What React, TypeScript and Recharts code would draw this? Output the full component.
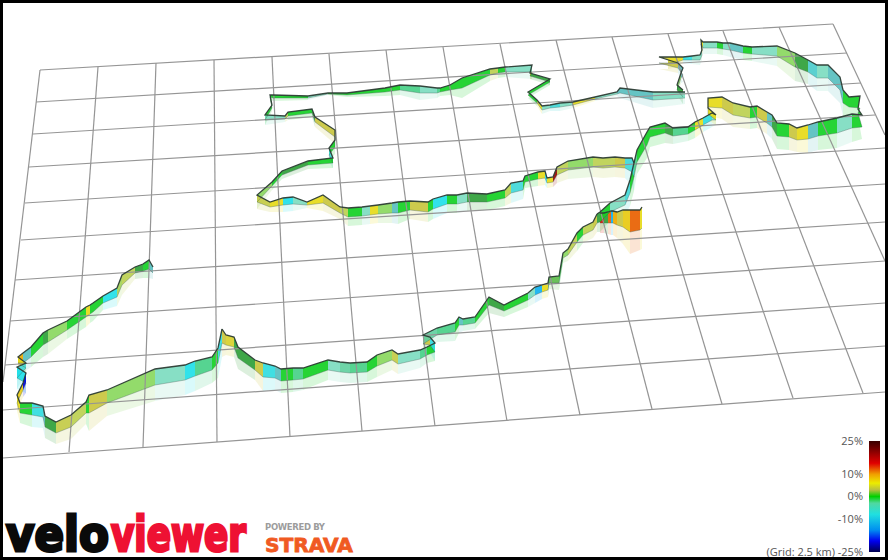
import React from 'react';
import { ComposedChart, Area, Line, XAxis, YAxis, ReferenceArea, ReferenceDot } from 'recharts';

// projected grid, [x1, y1, x2, y2]
const gridAcross = [
  [40, 70, 833, 24], [36, 102, 847, 53], [33, 134, 861, 83], [29, 167, 875, 115],
  [25, 203, 885, 148], [21, 240, 885, 184], [15, 280, 885, 222], [10, 321, 885, 261],
  [5, 365, 885, 303], [3, 410, 885, 346], [3, 458, 885, 392],
];
const gridAlong = [
  [40, 70, 3, 382], [98, 67, 69, 452], [156, 63, 143, 447], [214, 60, 217, 442],
  [272, 57, 290, 437], [329, 54, 362, 431], [386, 50, 435, 426], [443, 47, 507, 421],
  [500, 44, 580, 415], [556, 40, 652, 409], [612, 37, 722, 404], [668, 34, 793, 398],
  [723, 31, 863, 393], [779, 27, 885, 261], [833, 24, 885, 135],
];

// route legs: [x, top of wall, foot of wall, gradient % of the stretch leaving this point]
const westLeg = [
  [153, 267, 273, -4], [149, 260, 269, 0], [143, 264, 271, 1], [135, 267, 273, 3], [122, 275, 285, 2.5],
  [117, 288, 297, -8], [103, 296, 303, 0], [93, 303, 312, 0], [90, 305, 314, 5], [86, 307, 317, 0],
  [67, 321, 330, 2], [48, 330, 342, 1], [43, 333, 345, 0], [31, 347, 357, -4], [23, 353, 363, 8],
  [18, 357, 363, 5], [26, 363, 368, -6], [17, 367, 378, -8], [26, 373, 383, -20], [23, 383, 390, 6],
  [17, 395, 403, 5], [20, 403, 413, 0], [32, 403, 415, -7], [43, 406, 417, -4], [45, 416, 427, 1],
  [56, 422, 433, 3.5], [71, 415, 427, 3], [86, 402, 413, 0], [89, 395, 413, 4], [107, 390, 403, 2],
  [155, 369, 385, -3], [185, 365, 380, -8], [195, 361, 376, -1], [212, 357, 370, 0], [218, 348, 363, -7],
  [222, 329, 343, 4],
];
const southLeg = [
  [222, 329, 343, 4], [226, 335, 345, 4.5], [234, 337, 347, 1], [238, 347, 358, 1], [255, 360, 370, 4],
  [263, 363, 377, -7], [275, 366, 378, -4], [281, 369, 381, 0], [293, 368, 380, -1], [303, 368, 379, 0],
  [328, 360, 370, -3], [340, 362, 372, -2], [350, 363, 373, -1], [367, 362, 372, 0], [377, 355, 366, 2],
  [392, 350, 360, 3.5], [398, 354, 364, -3], [420, 350, 359, -1], [427, 347, 355, 0], [435, 343, 352, -7],
  [430, 337, 345, 4], [423, 335, 344, -2], [437, 328, 335, -1], [455, 323, 332, 0], [459, 317, 325, -4],
  [463, 319, 325, -1], [475, 317, 323, 0], [489, 297, 305, 1], [504, 305, 311, 0], [528, 293, 300, -3],
  [535, 287, 295, -12], [542, 285, 292, 5], [548, 283, 290, 1], [549, 277, 283, 1.5], [559, 276, 283, 0],
  [563, 253, 258, 2], [568, 249, 255, 3], [577, 233, 242, 0], [583, 227, 235, 3], [593, 222, 230, 4],
  [597, 214, 223, 1],
];
const spurLeg = [
  [600, 213, 223, 16], [604, 213, 223, 1], [608, 212, 223, 13], [611, 211, 223, -12], [613, 211, 223, 8],
  [617, 212, 225, 4], [623, 210, 227, 6], [630, 210, 232, 13], [640, 210, 230, 5], [642, 207, 228, 5],
];
const eastLeg = [
  [597, 214, 223, 1], [600, 212, 222, 0], [610, 203, 212, -3], [625, 195, 205, -6], [630, 180, 193, 0],
  [634, 163, 177, -1], [637, 150, 162, 0], [647, 132, 145, 0], [650, 127, 137, 0], [665, 123, 133, 1],
  [673, 128, 136, -1], [688, 127, 134, 0], [695, 122, 130, 5], [703, 118, 125, -7], [712, 113, 120, -3],
  [716, 115, 120, 5], [708, 108, 114, 4], [708, 98, 107, 5], [722, 97, 108, 4], [733, 103, 115, 3],
  [750, 107, 118, 0], [757, 106, 117, 4], [767, 112, 123, -4], [772, 115, 127, 1], [777, 123, 136, 0],
  [789, 124, 137, 4], [797, 128, 140, 5], [808, 125, 139, -4], [818, 122, 136, 0], [837, 118, 133, -3],
  [852, 114, 128, 0], [862, 115, 127, 0], [858, 109, 113, 0], [860, 96, 108, 0], [849, 97, 107, 0],
  [843, 90, 103, -4], [840, 77, 90, -4], [828, 65, 78, -3], [817, 65, 78, -5], [808, 60, 72, 1],
  [795, 53, 67, 2], [777, 46, 56, -3], [752, 47, 54, 0], [743, 46, 53, -4], [730, 43, 50, -3],
  [723, 43, 49, 0], [717, 42, 48, -3], [703, 42, 48, 5], [701, 40, 44, 4], [702, 50, 55, -3],
  [700, 55, 60, -3], [692, 56, 60, -7], [683, 57, 60, 5], [677, 57, 62, 5], [668, 57, 63, 4],
  [659, 57, 63, 4], [678, 63, 68, -4], [683, 68, 75, -4], [681, 73, 78, 2], [677, 85, 90, 1],
  [683, 90, 97, 1],
];
const northLeg = [
  [685, 92, 98, -3], [653, 92, 100, -4], [620, 88, 93, -4], [617, 92, 94, -3], [595, 97, 99, 5],
  [573, 102, 105, -3], [560, 103, 107, -6], [550, 105, 108, -3], [542, 106, 110, 5], [537, 100, 103, 0],
  [528, 92, 95, 0], [550, 79, 82, 1], [530, 73, 76, 5], [532, 65, 72, -3], [505, 67, 72, 0],
  [498, 68, 73, 3], [490, 69, 75, 0], [462, 78, 88, 0], [450, 85, 90, 0], [440, 88, 92, -1],
  [437, 88, 93, -3], [420, 86, 93, -1], [400, 85, 90, 0], [385, 88, 92, 0], [347, 93, 95, 0],
  [328, 93, 94, -3], [308, 96, 98, 0], [273, 95, 98, 0], [270, 95, 97, 0], [272, 105, 108, 0],
  [265, 115, 120, -3], [285, 116, 119, 3], [288, 112, 116, 0], [312, 109, 113, 1], [315, 117, 122, 4],
  [335, 130, 137, 4], [335, 140, 147, 0], [329, 148, 155, -6], [333, 158, 163, 0], [308, 161, 165, 1],
  [282, 171, 175, 0], [272, 182, 186, 2], [257, 195, 202, 3.5], [270, 202, 207, 5], [283, 198, 205, -8],
  [293, 197, 204, -3], [307, 202, 205, 5], [323, 195, 203, 4], [340, 207, 213, 3], [348, 208, 217, 0],
  [362, 207, 216, -3], [370, 206, 215, 5], [378, 205, 214, 2], [392, 203, 213, -4], [398, 202, 213, 0],
  [410, 201, 210, 4], [428, 202, 212, 0], [433, 199, 209, -8], [447, 195, 204, 0], [457, 195, 204, -3],
  [467, 193, 202, 1], [487, 194, 202, 0], [505, 190, 198, 3], [511, 183, 193, -6], [523, 181, 190, 0],
  [525, 176, 182, 0], [538, 172, 179, 5], [545, 171, 178, -8], [547, 178, 183, 5], [553, 177, 182, 20],
  [557, 167, 175, 3], [568, 161, 170, 2], [593, 157, 167, 3], [603, 158, 168, 3], [615, 157, 167, 4],
  [625, 158, 168, -6], [632, 158, 172, -6], [634, 163, 177, -6],
];

// colour ramp of the walls, gradient % and colour
const wallGrades = [-25, -20, -12, -8, -6, -4, -3, -2, -1, 0, 1, 2, 3, 4, 5, 8, 13, 16, 25];
const wallColors = [
  '#000050', '#0000e0', '#10b0f0', '#20dfe8', '#40d8d8', '#58bfbf', '#7ddcc0', '#62d0a0', '#48d088',
  '#14d024', '#2f9f38', '#8ad85e', '#bcd050', '#c9c63e', '#e6da18', '#eca800', '#e86000', '#d81000', '#400000',
];

// legend
const legendGrades = [25, 18, 15, 10, 6, 3, 0, -3, -8, -15, -20, -25];
const legendColors = [
  '#380000', '#b00000', '#e00000', '#f0a000', '#ecec00', '#b8c040', '#00d000', '#50d8a0', '#20e0e0',
  '#0090f0', '#0000f0', '#000050',
];
const legendTicks = [25, 10, 0, -10];

const legs = [westLeg, southLeg, spurLeg, eastLeg, northLeg];

const hex = (c: string, i: number) => parseInt(c.slice(i, i + 2), 16);

const gradeColor = (g: number) => {
  let i = wallGrades.findIndex((v) => v >= g);
  if (i <= 0) return wallColors[Math.max(i, 0)];
  const t = (g - wallGrades[i - 1]) / (wallGrades[i] - wallGrades[i - 1]);
  const a = wallColors[i - 1];
  const b = wallColors[i];
  const mix = (k: number) => Math.round(hex(a, k) + (hex(b, k) - hex(a, k)) * t);
  return `rgb(${mix(1)},${mix(3)},${mix(5)})`;
};

// one run per stretch of equal gradient
const runs = legs.flatMap((leg) => {
  const out: { grade: number; points: number[][] }[] = [];
  leg.slice(0, -1).forEach((p, i) => {
    const last = out[out.length - 1];
    if (last && last.grade === p[3]) last.points.push(leg[i + 1]);
    else out.push({ grade: p[3], points: [p, leg[i + 1]] });
  });
  return out;
});

const wall = (points: number[][]) => points.map((p) => ({ x: p[0], band: [p[2], p[1]] }));
const ghost = (points: number[][]) => points.map((p) => ({ x: p[0], band: [p[2] + (p[2] - p[1]), p[2]] }));
const edge = (leg: number[][], k: number) => leg.map((p) => ({ x: p[0], y: p[k] }));
const seg = (s: number[]) => [{ x: s[0], y: s[1] }, { x: s[2], y: s[3] }];

export default function App() {
  return (
    <div style={{ position: 'absolute', left: 0, top: 0, width: 888, height: 560, background: '#fff', overflow: 'hidden' }}>
      <ComposedChart width={888} height={560} margin={{ top: 0, right: 0, bottom: 0, left: 0 }}>
        <defs>
          <linearGradient id="gradeBar" x1="0" y1="0" x2="0" y2="1">
            {legendGrades.map((g, i) => (
              <stop key={g} offset={(25 - g) / 50} stopColor={legendColors[i]} />
            ))}
          </linearGradient>
        </defs>
        <XAxis type="number" dataKey="x" domain={[0, 888]} hide />
        <YAxis type="number" domain={[0, 560]} reversed hide />

        {[...gridAcross, ...gridAlong].map((s, i) => (
          <Line key={`g${i}`} data={seg(s)} dataKey="y" stroke="#959595" strokeWidth={1.2} dot={false} isAnimationActive={false} />
        ))}

        {runs.map((r, i) => (
          <Area key={`s${i}`} data={ghost(r.points)} dataKey="band" type="linear" fill={gradeColor(r.grade)} fillOpacity={0.17} stroke="none" dot={false} isAnimationActive={false} />
        ))}
        {runs.map((r, i) => (
          <Area key={`w${i}`} data={wall(r.points)} dataKey="band" type="linear" fill={gradeColor(r.grade)} fillOpacity={0.92} stroke="none" dot={false} isAnimationActive={false} />
        ))}
        {legs.map((leg, i) => (
          <Line key={`b${i}`} data={edge(leg, 2)} dataKey="y" stroke="#3c5c50" strokeOpacity={0.5} strokeWidth={0.7} dot={false} isAnimationActive={false} />
        ))}
        {legs.map((leg, i) => (
          <Line key={`t${i}`} data={edge(leg, 1)} dataKey="y" stroke="#2c3c34" strokeOpacity={0.95} strokeWidth={1.3} dot={false} isAnimationActive={false} />
        ))}

        <ReferenceArea x1={869} x2={880} y1={441} y2={552} fill="url(#gradeBar)" fillOpacity={1} stroke="none" />
        {legendTicks.map((g) => (
          <ReferenceDot key={g} x={869} y={441 + ((25 - g) / 50) * 111} r={0} stroke="none"
            label={{ value: `${g}%`, position: 'left', offset: 6, fill: '#555', fontSize: 11, fontFamily: 'Open Sans' }} />
        ))}
        <ReferenceDot x={869} y={552} r={0} stroke="none"
          label={{ value: '(Grid: 2.5 km) -25%', position: 'left', offset: 6, fill: '#555', fontSize: 11, fontFamily: 'Open Sans' }} />
      </ComposedChart>

      <svg width={888} height={560} style={{ position: 'absolute', left: 0, top: 0 }}>
        <g fontFamily="DejaVu Sans" fontWeight="bold">
          <text x={6} y={551} fontSize={48} fill="#0a0a0a" stroke="#0a0a0a" strokeWidth={3} textLength={103} lengthAdjust="spacingAndGlyphs">velo</text>
          <text x={111} y={551} fontSize={48} fill="#ee1133" stroke="#ee1133" strokeWidth={3} textLength={135} lengthAdjust="spacingAndGlyphs">viewer</text>
          <text x={265} y={530} fontSize={8.5} fill="#9c9c9c" textLength={60} lengthAdjust="spacing">POWERED BY</text>
          <text x={265} y={552} fontSize={20} fill="#f05a22" stroke="#f05a22" strokeWidth={0.8} textLength={88} lengthAdjust="spacingAndGlyphs">STRAVA</text>
        </g>
      </svg>
      <div style={{ position: 'absolute', inset: 0, border: '3px solid #000', boxSizing: 'border-box', pointerEvents: 'none' }} />
    </div>
  );
}
